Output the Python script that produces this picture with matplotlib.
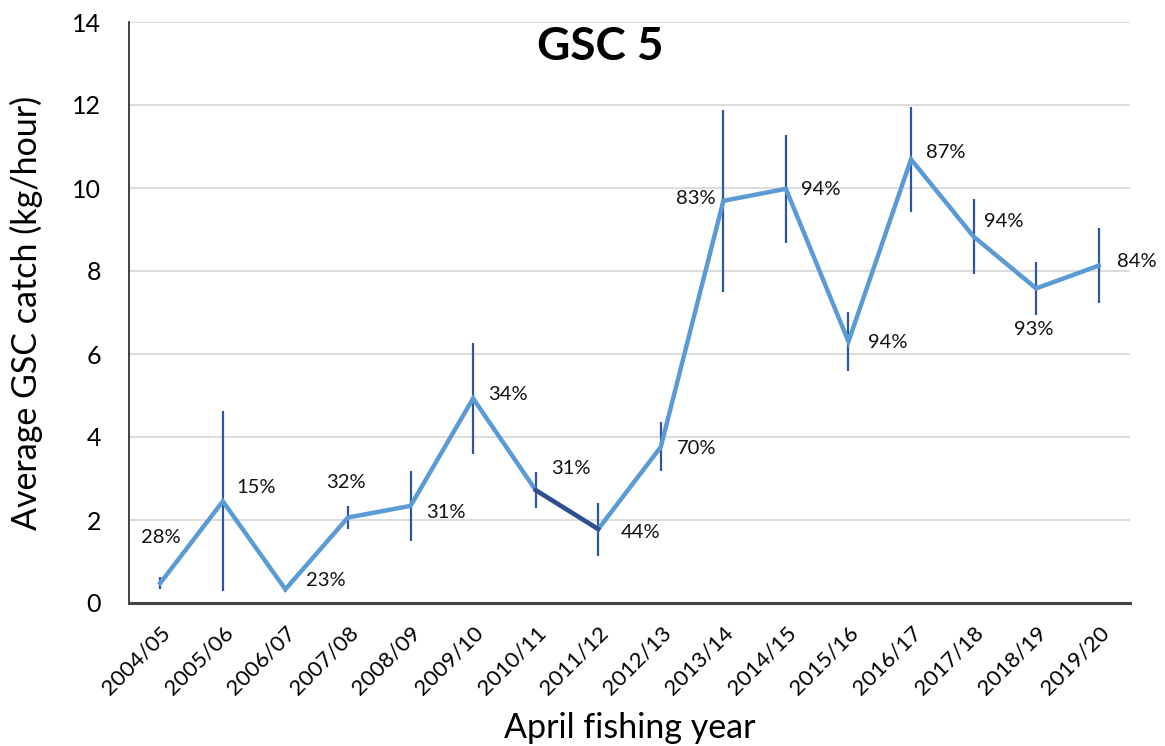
import matplotlib
matplotlib.use("Agg")
import matplotlib.pyplot as plt
import numpy as np

years = ["2004/05", "2005/06", "2006/07", "2007/08", "2008/09", "2009/10",
         "2010/11", "2011/12", "2012/13", "2013/14", "2014/15", "2015/16",
         "2016/17", "2017/18", "2018/19", "2019/20"]
catch = [0.48, 2.45, 0.33, 2.06, 2.34, 4.93, 2.72, 1.78, 3.76, 9.69, 9.98,
         6.30, 10.69, 8.83, 7.58, 8.13]
err = [0.15, 2.17, 0.06, 0.27, 0.84, 1.33, 0.43, 0.64, 0.59, 2.19, 1.30,
       0.72, 1.27, 0.90, 0.64, 0.91]
pct = ["28%", "15%", "23%", "32%", "31%", "34%", "31%", "44%", "70%", "83%",
       "94%", "94%", "87%", "94%", "93%", "84%"]
# label offsets in pixels (dx, dy) from each point
offsets = [(1, 46), (33, 14), (40, 9), (-2, 35), (35, -7), (35, 4), (35, 22),
           (42, -3), (36, -2), (-28, 2), (35, -1), (39, -1), (35, 7),
           (30, 15), (-2, -41), (38, 4)]

plt.rcParams['font.family'] = ['Lato', 'DejaVu Sans']

fig = plt.figure(figsize=(11.65, 7.46), dpi=100)
ax = fig.add_axes([129/1165, 1 - 603/746, (1130-129)/1165, (603-22)/746])

x = np.arange(len(years))
line_c = "#5B9BD5"
dark_c = "#2F4F8F"

ax.errorbar(x, catch, yerr=err, fmt='none', ecolor="#2F55A0", elinewidth=1.6,
            capsize=0, zorder=2)
ax.plot(x, catch, color=line_c, lw=3.2, zorder=3, solid_joinstyle='miter')
# highlighted segment between 2010/11 and 2011/12
ax.plot(x[6:8], catch[6:8], color=dark_c, lw=3.2, zorder=4)

for xi, yi, t, (dx, dy) in zip(x, catch, pct, offsets):
    ax.annotate(t, (xi, yi), xytext=(dx, dy), textcoords='offset pixels',
                ha='center', va='center', fontsize=14.5, color='#111111')

ax.set_xlim(-0.5, len(years) - 0.5)
ax.set_ylim(0, 14)
ax.set_yticks(np.arange(0, 15, 2))
ax.set_xticks(x)
ax.set_xticklabels(years, rotation=45, ha='right', rotation_mode='anchor',
                   fontsize=16)
ax.tick_params(axis='y', labelsize=18, length=0, pad=20)
ax.tick_params(axis='x', length=0, pad=14)
ax.yaxis.grid(True, color='#D9D9D9', lw=1.3)
ax.set_axisbelow(True)
for s in ['top', 'right']:
    ax.spines[s].set_visible(False)
ax.spines['left'].set_color('#222222')
ax.spines['left'].set_linewidth(1.2)
ax.spines['bottom'].set_color('#444444')
ax.spines['bottom'].set_linewidth(2.2)

ax.set_ylabel("Average GSC catch (kg/hour)", fontsize=24.5)
ax.yaxis.set_label_coords(-86/1001, 0.5)
fig.text(630/1165, 1 - 728/746, "April fishing year", fontsize=24.5,
         ha='center', va='center')
fig.text(600/1165, 1 - 47/746, "GSC 5", fontsize=33, fontweight='bold',
         ha='center', va='center')

fig.savefig("out.png", dpi=100)
